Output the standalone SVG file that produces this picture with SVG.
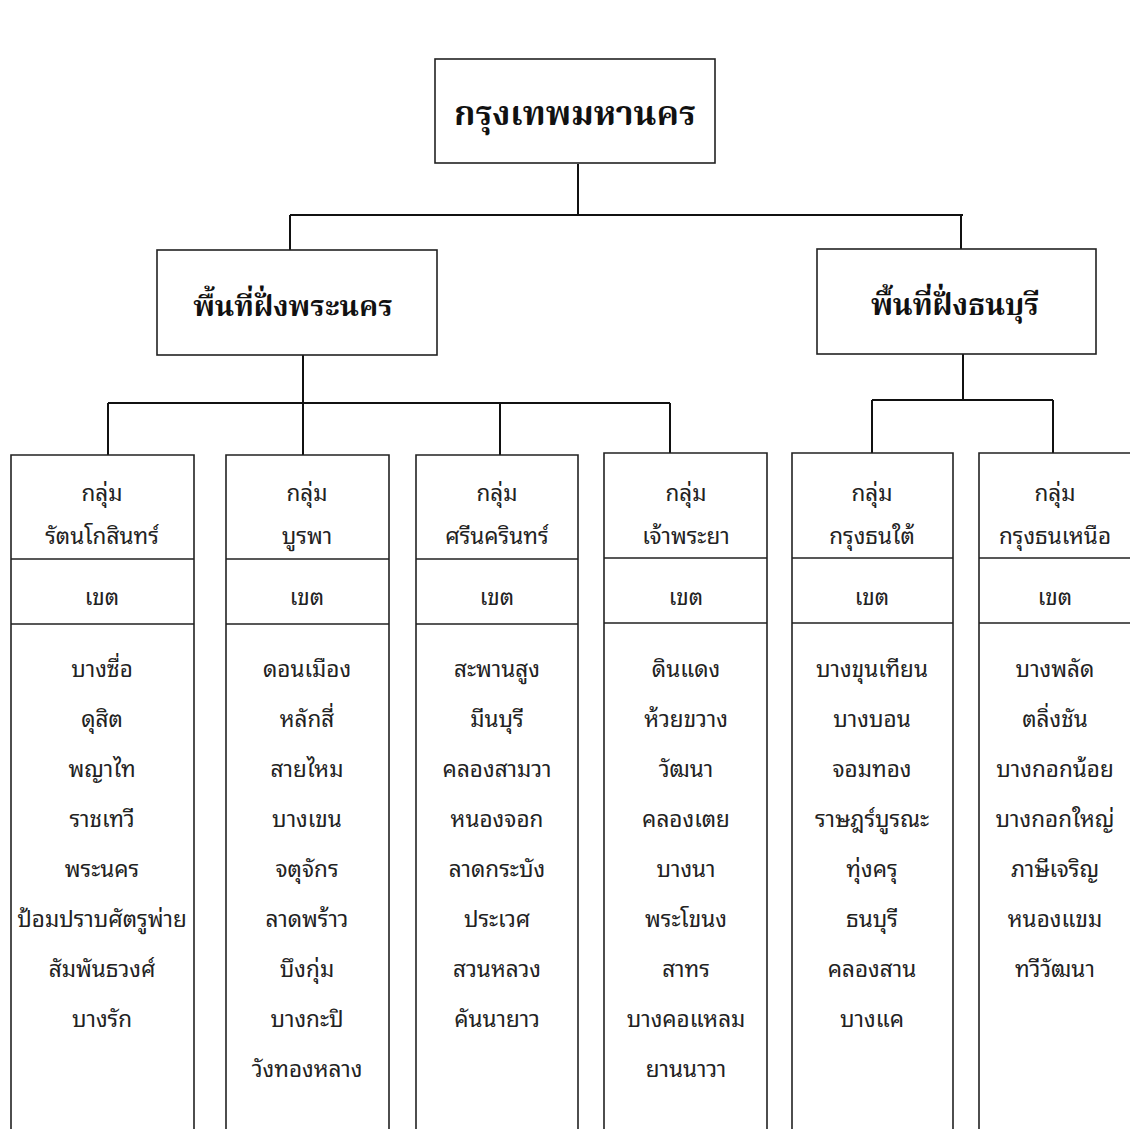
<svg xmlns="http://www.w3.org/2000/svg" width="1130" height="1129" viewBox="0 0 1130 1129">
<style>
.bx{fill:#fff;stroke:#222;stroke-width:1.6}
.ln{fill:none;stroke:#222;stroke-width:1.6}
.cn{fill:none;stroke:#111;stroke-width:2}
.tt{font-family:"Noto Serif Thai","Noto Sans Thai","Liberation Serif",serif;font-weight:bold;text-anchor:middle;fill:#111}
.t{font-family:"Noto Sans Thai Looped","Noto Sans Thai","Noto Sans","DejaVu Sans",sans-serif;font-size:22.5px;text-anchor:middle;fill:#222}
</style>
<rect width="1130" height="1129" fill="#fff"/>
<g id="connectors">
<path class="cn" d="M578 164V215M290 215H963M290 215V250M961 215V249"/>
<path class="cn" d="M303 355V403M108 403H670M108 403V455M303 403V455M500 403V455M670 403V453"/>
<path class="cn" d="M963 354V400M872 400H1053M872 400V453M1053 400V453"/>
</g>
<g id="root"><rect class="bx" x="435" y="59" width="280" height="104"/><text class="tt" x="575" y="125" font-size="34">กรุงเทพมหานคร</text></g>
<g id="phranakhon"><rect class="bx" x="157" y="250" width="280" height="105"/><text class="tt" x="293" y="316" font-size="29">พื้นที่ฝั่งพระนคร</text></g>
<g id="thonburi"><rect class="bx" x="817" y="249" width="279" height="105"/><text class="tt" x="955" y="315" font-size="29.5">พื้นที่ฝั่งธนบุรี</text></g>

<g id="g1">
<path class="ln" d="M11 1129V455H194V1129M11 559H194M11 624H194"/>
<text class="t" x="102" y="501">กลุ่ม</text><text class="t" x="102" y="544">รัตนโกสินทร์</text><text class="t" x="102" y="605">เขต</text>
<text class="t" x="102" y="677">บางซื่อ</text><text class="t" x="102" y="727">ดุสิต</text><text class="t" x="102" y="777">พญาไท</text><text class="t" x="102" y="827">ราชเทวี</text><text class="t" x="102" y="877">พระนคร</text><text class="t" x="102" y="927">ป้อมปราบศัตรูพ่าย</text><text class="t" x="102" y="977">สัมพันธวงศ์</text><text class="t" x="102" y="1027">บางรัก</text>
</g>
<g id="g2">
<path class="ln" d="M226 1129V455H389V1129M226 559H389M226 624H389"/>
<text class="t" x="307" y="501">กลุ่ม</text><text class="t" x="307" y="544">บูรพา</text><text class="t" x="307" y="605">เขต</text>
<text class="t" x="307" y="677">ดอนเมือง</text><text class="t" x="307" y="727">หลักสี่</text><text class="t" x="307" y="777">สายไหม</text><text class="t" x="307" y="827">บางเขน</text><text class="t" x="307" y="877">จตุจักร</text><text class="t" x="307" y="927">ลาดพร้าว</text><text class="t" x="307" y="977">บึงกุ่ม</text><text class="t" x="307" y="1027">บางกะปิ</text><text class="t" x="307" y="1077">วังทองหลาง</text>
</g>
<g id="g3">
<path class="ln" d="M416 1129V455H578V1129M416 559H578M416 624H578"/>
<text class="t" x="497" y="501">กลุ่ม</text><text class="t" x="497" y="544">ศรีนครินทร์</text><text class="t" x="497" y="605">เขต</text>
<text class="t" x="497" y="677">สะพานสูง</text><text class="t" x="497" y="727">มีนบุรี</text><text class="t" x="497" y="777">คลองสามวา</text><text class="t" x="497" y="827">หนองจอก</text><text class="t" x="497" y="877">ลาดกระบัง</text><text class="t" x="497" y="927">ประเวศ</text><text class="t" x="497" y="977">สวนหลวง</text><text class="t" x="497" y="1027">คันนายาว</text>
</g>
<g id="g4">
<path class="ln" d="M604 1129V453H767V1129M604 558H767M604 623H767"/>
<text class="t" x="686" y="501">กลุ่ม</text><text class="t" x="686" y="544">เจ้าพระยา</text><text class="t" x="686" y="605">เขต</text>
<text class="t" x="686" y="677">ดินแดง</text><text class="t" x="686" y="727">ห้วยขวาง</text><text class="t" x="686" y="777">วัฒนา</text><text class="t" x="686" y="827">คลองเตย</text><text class="t" x="686" y="877">บางนา</text><text class="t" x="686" y="927">พระโขนง</text><text class="t" x="686" y="977">สาทร</text><text class="t" x="686" y="1027">บางคอแหลม</text><text class="t" x="686" y="1077">ยานนาวา</text>
</g>
<g id="g5">
<path class="ln" d="M792 1129V453H953V1129M792 558H953M792 623H953"/>
<text class="t" x="872" y="501">กลุ่ม</text><text class="t" x="872" y="544">กรุงธนใต้</text><text class="t" x="872" y="605">เขต</text>
<text class="t" x="872" y="677">บางขุนเทียน</text><text class="t" x="872" y="727">บางบอน</text><text class="t" x="872" y="777">จอมทอง</text><text class="t" x="872" y="827">ราษฎร์บูรณะ</text><text class="t" x="872" y="877">ทุ่งครุ</text><text class="t" x="872" y="927">ธนบุรี</text><text class="t" x="872" y="977">คลองสาน</text><text class="t" x="872" y="1027">บางแค</text>
</g>
<g id="g6">
<path class="ln" d="M979 1129V453H1131M979 558H1131M979 623H1131"/>
<text class="t" x="1055" y="501">กลุ่ม</text><text class="t" x="1055" y="544">กรุงธนเหนือ</text><text class="t" x="1055" y="605">เขต</text>
<text class="t" x="1055" y="677">บางพลัด</text><text class="t" x="1055" y="727">ตลิ่งชัน</text><text class="t" x="1055" y="777">บางกอกน้อย</text><text class="t" x="1055" y="827">บางกอกใหญ่</text><text class="t" x="1055" y="877">ภาษีเจริญ</text><text class="t" x="1055" y="927">หนองแขม</text><text class="t" x="1055" y="977">ทวีวัฒนา</text>
</g>
</svg>
